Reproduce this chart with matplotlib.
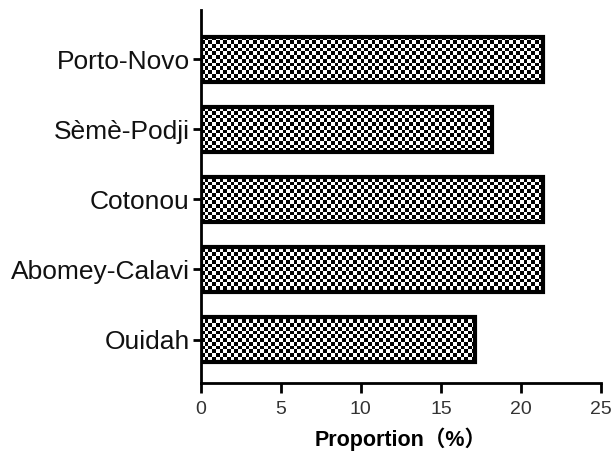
import numpy as np
from matplotlib import pyplot as plt

communes = ["Ouidah", "Abomey-Calavi", "Cotonou", "Sèmè-Podji", "Porto-Novo"]
proportions = [17.1, 21.4, 21.4, 18.2, 21.4]
x_ticks = [0, 5, 10, 15, 20, 25]

plt.rcParams['font.family'] = ['Liberation Sans', 'Noto Sans CJK SC', 'DejaVu Sans']

fig = plt.figure(figsize=(6.12, 4.55), dpi=100)
ax = fig.add_axes([0.328, 0.158, 0.654, 0.82])

pos = np.arange(len(communes))
bars = ax.barh(pos, proportions, height=0.64, facecolor="none",
               edgecolor="black", linewidth=3, zorder=3)

# checkerboard fill, clipped to each bar
ny, nx = 100, 108
yy, xx = np.indices((ny, nx))
checker = ((yy + xx) % 2).astype(float)
for b in bars:
    im = ax.imshow(checker, cmap="gray", interpolation="nearest", aspect="auto",
                   extent=(0, 25, -0.62, 4.7), zorder=2)
    im.set_clip_path(b)

ax.set_xlim(0, 25)
ax.set_ylim(-0.62, 4.7)
ax.set_xticks(x_ticks)
ax.set_yticks(pos)
ax.set_yticklabels(communes, fontsize=19, color="#111111")
ax.tick_params(axis="x", labelsize=14, labelcolor="#333333", length=7, width=2, pad=6)
ax.tick_params(axis="y", length=6, width=2, pad=2)
for s in ["top", "right"]:
    ax.spines[s].set_visible(False)
for s in ["left", "bottom"]:
    ax.spines[s].set_linewidth(2)
ax.set_xlabel("Proportion（%）", fontsize=15.5, fontweight="bold", labelpad=7)

fig.savefig("out.png", dpi=100)
